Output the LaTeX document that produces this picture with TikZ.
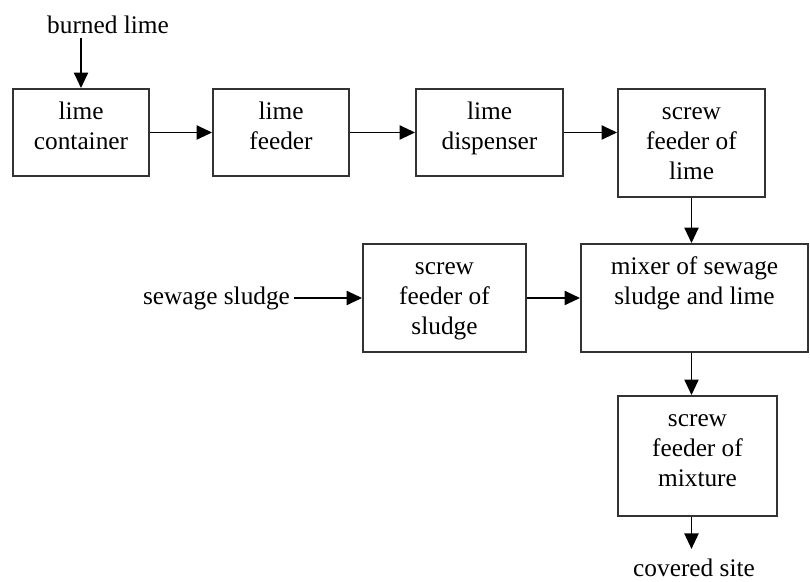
\documentclass[tikz,border=0pt]{standalone}
\usepackage{fontspec}
\setmainfont{Liberation Serif}
\usetikzlibrary{arrows.meta}

\begin{document}
\begin{tikzpicture}[x=0.025cm, y=-0.025cm,
  box/.style={draw=black!80, line width=1.3pt, align=center, inner sep=0pt, font=\fontsize{18}{21.3}\selectfont},
  lbl/.style={inner sep=3pt, font=\fontsize{18}{21.3}\selectfont},
  arr/.style={line width=1.4pt, -{Triangle[length=11pt, width=10pt]}}]

 \useasboundingbox (0,0) rectangle (810,582);

 % lime line
 \node[lbl] (burned) at (108,25) {burned lime};
 \node[box, minimum width=3.4cm, text height=43.3pt, text depth=18.6pt] (container) at (81,132.5) {lime\\container};
 \node[box, minimum width=3.4cm, text height=43.3pt, text depth=18.6pt] (feeder) at (281,132.5) {lime\\feeder};
 \node[box, minimum width=3.675cm, text height=43.3pt, text depth=18.6pt] (dispenser) at (489.5,132.5) {lime\\dispenser};
 \node[box, minimum width=3.675cm, text height=64.6pt, text depth=12.2pt] (slime) at (691.5,143) {screw\\feeder of\\lime};

 % sludge line
 \node[lbl] (sewage) at (216.5,298) {sewage sludge};
 \node[box, minimum width=4.075cm, text height=64.6pt, text depth=12.2pt] (ssludge) at (444.5,298) {screw\\feeder of\\sludge};
 \node[box, minimum width=5.675cm, text height=43.3pt, text depth=33.5pt] (mixer) at (694.5,298) {mixer of sewage\\sludge and lime};

 % output
 \node[box, minimum width=3.975cm, text height=64.6pt, text depth=20.8pt] (smix) at (697.5,456) {screw\\feeder of\\mixture};
 \node[lbl] (site) at (694,568) {covered site};
 \path (smix.south -| slime.south) ++(0,32) coordinate (site-in);

 \draw[arr] (burned.south -| container.north) -- (container.north);
 \draw[arr] (container) -- (feeder);
 \draw[arr] (feeder) -- (dispenser);
 \draw[arr] (dispenser) -- (dispenser -| slime.west);
 \draw[arr] (slime.south) -- (slime.south |- mixer.north);
 \draw[arr] (sewage) -- (ssludge);
 \draw[arr] (ssludge) -- (mixer);
 \draw[arr] (mixer.south -| slime.south) -- (smix.north -| slime.south);
 \draw[arr] (smix.south -| slime.south) -- (site-in); % to covered site

\end{tikzpicture}
\end{document}
